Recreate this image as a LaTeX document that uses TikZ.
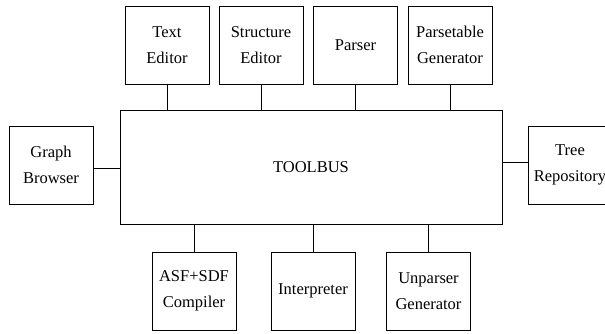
\documentclass[tikz,border=0pt]{standalone}
\usepackage{fontspec}
\setmainfont{Liberation Serif}

\begin{document}
\begin{tikzpicture}[x=1pt,y=-1pt,
  tool/.style={draw,line width=0.8pt,minimum width=84pt,minimum height=78pt,
    inner sep=0pt,align=center,font=\fontsize{16.5}{26}\selectfont},
  wire/.style={line width=0.8pt}]

\clip (0,0) rectangle (605,333);

\node[tool,minimum width=382pt,minimum height=114pt] (bus) at (311,167) {TOOLBUS};

\node[tool] (texted) at (167,45) {Text\\Editor};
\node[tool] (structed) at (261,45) {Structure\\Editor};
\node[tool] (parser) at (355.5,45) {Parser};
\node[tool] (ptgen) at (450,45) {Parsetable\\Generator};

\node[tool] (graph) at (51,165) {Graph\\Browser};
\node[tool] (tree) at (570,165) {Tree\\Repository};

\node[tool] (compiler) at (194,291) {ASF+SDF\\Compiler};
\node[tool] (interp) at (313,291) {Interpreter};
\node[tool] (upgen) at (428.5,291) {Unparser\\Generator};

\foreach \t in {texted,structed,parser,ptgen}
   \draw[wire] (\t.south) -- (\t.south |- bus.north);
\foreach \t in {compiler,interp,upgen}
   \draw[wire] (\t.north) -- (\t.north |- bus.south);

\draw[wire] ([yshift=-3pt]graph.east) -- ([yshift=-3pt]graph.east -| bus.west);
\draw[wire] ([yshift=3pt]tree.west) -- ([yshift=3pt]tree.west -| bus.east);

\end{tikzpicture}
\end{document}
